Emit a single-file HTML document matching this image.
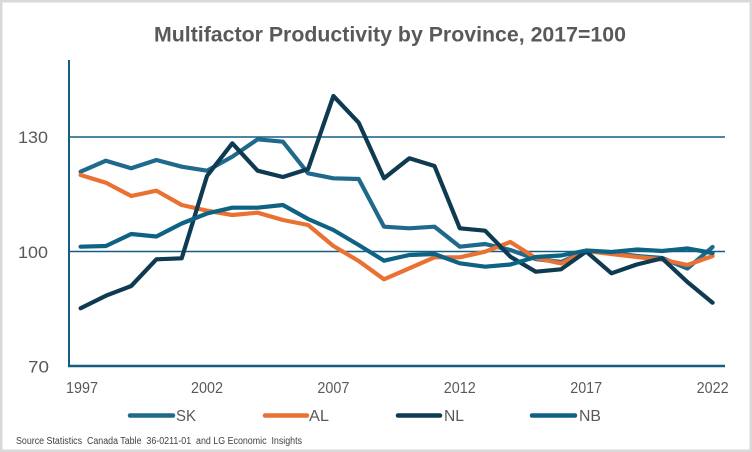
<!DOCTYPE html>
<html>
<head>
<meta charset="utf-8">
<style>
  html, body { margin:0; padding:0; background:#fff; }
  svg { display:block; }
  text { font-family: "Liberation Sans Narrow", "Liberation Sans", sans-serif; fill:#595959; }
</style>
</head>
<body>
<svg width="752" height="452" viewBox="0 0 752 452" xmlns="http://www.w3.org/2000/svg">
  <rect x="0" y="0" width="752" height="452" fill="#ffffff"/>
  <rect x="1.25" y="1.25" width="749.5" height="449.5" fill="none" stroke="#D9D9D9" stroke-width="2.5"/>

  <!-- Title -->
  <text x="154" y="41.5" font-size="21" font-weight="bold" textLength="472" lengthAdjust="spacingAndGlyphs">Multifactor Productivity by Province, 2017=100</text>

  <!-- gridlines -->
  <line x1="68" y1="137" x2="725" y2="137" stroke="#165E80" stroke-width="1.6"/>
  <line x1="68" y1="251.5" x2="725" y2="251.5" stroke="#165E80" stroke-width="1.6"/>
  <!-- axes -->
  <line x1="69" y1="60" x2="69" y2="366" stroke="#165E80" stroke-width="2"/>
  <line x1="68" y1="366" x2="725" y2="366" stroke="#165E80" stroke-width="2.5"/>

  <!-- y labels -->
  <text x="48" y="143" font-size="17" text-anchor="end" textLength="30" lengthAdjust="spacingAndGlyphs">130</text>
  <text x="48" y="258" font-size="17" text-anchor="end" textLength="30" lengthAdjust="spacingAndGlyphs">100</text>
  <text x="49" y="372.7" font-size="17" text-anchor="end" textLength="21" lengthAdjust="spacingAndGlyphs">70</text>

  <!-- x labels -->
  <text x="82" y="393" font-size="15.5" text-anchor="middle" textLength="32" lengthAdjust="spacingAndGlyphs">1997</text>
  <text x="207" y="393" font-size="15.5" text-anchor="middle" textLength="32" lengthAdjust="spacingAndGlyphs">2002</text>
  <text x="333.4" y="393" font-size="15.5" text-anchor="middle" textLength="32" lengthAdjust="spacingAndGlyphs">2007</text>
  <text x="459.8" y="393" font-size="15.5" text-anchor="middle" textLength="32" lengthAdjust="spacingAndGlyphs">2012</text>
  <text x="586.2" y="393" font-size="15.5" text-anchor="middle" textLength="32" lengthAdjust="spacingAndGlyphs">2017</text>
  <text x="712.6" y="393" font-size="15.5" text-anchor="middle" textLength="32" lengthAdjust="spacingAndGlyphs">2022</text>

  <g fill="none" stroke-width="4.2" stroke-linejoin="round" stroke-linecap="round">
    <!-- SK -->
    <polyline stroke="#1F6A8C" points="80.6,171.7 105.9,160.7 131.2,168.3 156.4,160 181.7,166.7 207,170.7 232.3,156.7 257.6,139.3 282.9,141.7 308.1,173.3 333.4,178.3 358.7,179 384,226.7 409.3,228.3 434.5,226.7 459.8,246.7 485.1,244 510.4,250 535.7,259 561,262 586.2,251 611.5,253 636.8,256 662.1,258 687.4,268.5 712.6,247"/>
    <!-- AL -->
    <polyline stroke="#E97132" points="80.6,175 105.9,182.7 131.2,196 156.4,190.7 181.7,205 207,210.7 232.3,215 257.6,212.7 282.9,220 308.1,225 333.4,246 358.7,261 384,279.3 409.3,268.3 434.5,257.3 459.8,257.3 485.1,251.7 510.4,242 535.7,258 561,263.5 586.2,251 611.5,254 636.8,257 662.1,259.5 687.4,265 712.6,256"/>
    <!-- NL -->
    <polyline stroke="#0E3A52" points="80.6,308.3 105.9,295.7 131.2,286 156.4,259.3 181.7,258.3 207,176 232.3,143.3 257.6,170.7 282.9,177 308.1,169 333.4,96 358.7,122.7 384,178.3 409.3,158.3 434.5,166 459.8,228.3 485.1,230.7 510.4,256.7 535.7,271.7 561,269.3 586.2,251.5 611.5,273.3 636.8,264.5 662.1,258.3 687.4,282 712.6,302.7"/>
    <!-- NB -->
    <polyline stroke="#0E6283" points="80.6,246.7 105.9,246 131.2,234 156.4,236.5 181.7,223.5 207,213.5 232.3,207.7 257.6,207.7 282.9,205 308.1,219 333.4,230 358.7,245 384,260.7 409.3,255 434.5,254 459.8,263.3 485.1,266.7 510.4,264.5 535.7,257 561,255.5 586.2,250.5 611.5,252 636.8,249.5 662.1,251 687.4,248.5 712.6,253"/>
  </g>

  <!-- legend -->
  <g stroke-width="4.5" stroke-linecap="round">
    <line x1="130" y1="415.5" x2="173" y2="415.5" stroke="#1F6A8C"/>
    <line x1="265" y1="415.5" x2="307" y2="415.5" stroke="#E97132"/>
    <line x1="398" y1="415.5" x2="440" y2="415.5" stroke="#0E3A52"/>
    <line x1="532" y1="415.5" x2="575" y2="415.5" stroke="#0E6283"/>
  </g>
  <text x="176" y="421" font-size="15.5" textLength="20" lengthAdjust="spacingAndGlyphs">SK</text>
  <text x="309" y="421" font-size="15.5" textLength="20" lengthAdjust="spacingAndGlyphs">AL</text>
  <text x="444" y="421" font-size="15.5" textLength="20" lengthAdjust="spacingAndGlyphs">NL</text>
  <text x="579" y="421" font-size="15.5" textLength="22" lengthAdjust="spacingAndGlyphs">NB</text>

  <!-- source -->
  <text x="16" y="444" font-size="10" fill="#404040" textLength="286" lengthAdjust="spacingAndGlyphs" style="fill:#404040" xml:space="preserve">Source Statistics  Canada Table  36-0211-01  and LG Economic  Insights</text>
</svg>
</body>
</html>
